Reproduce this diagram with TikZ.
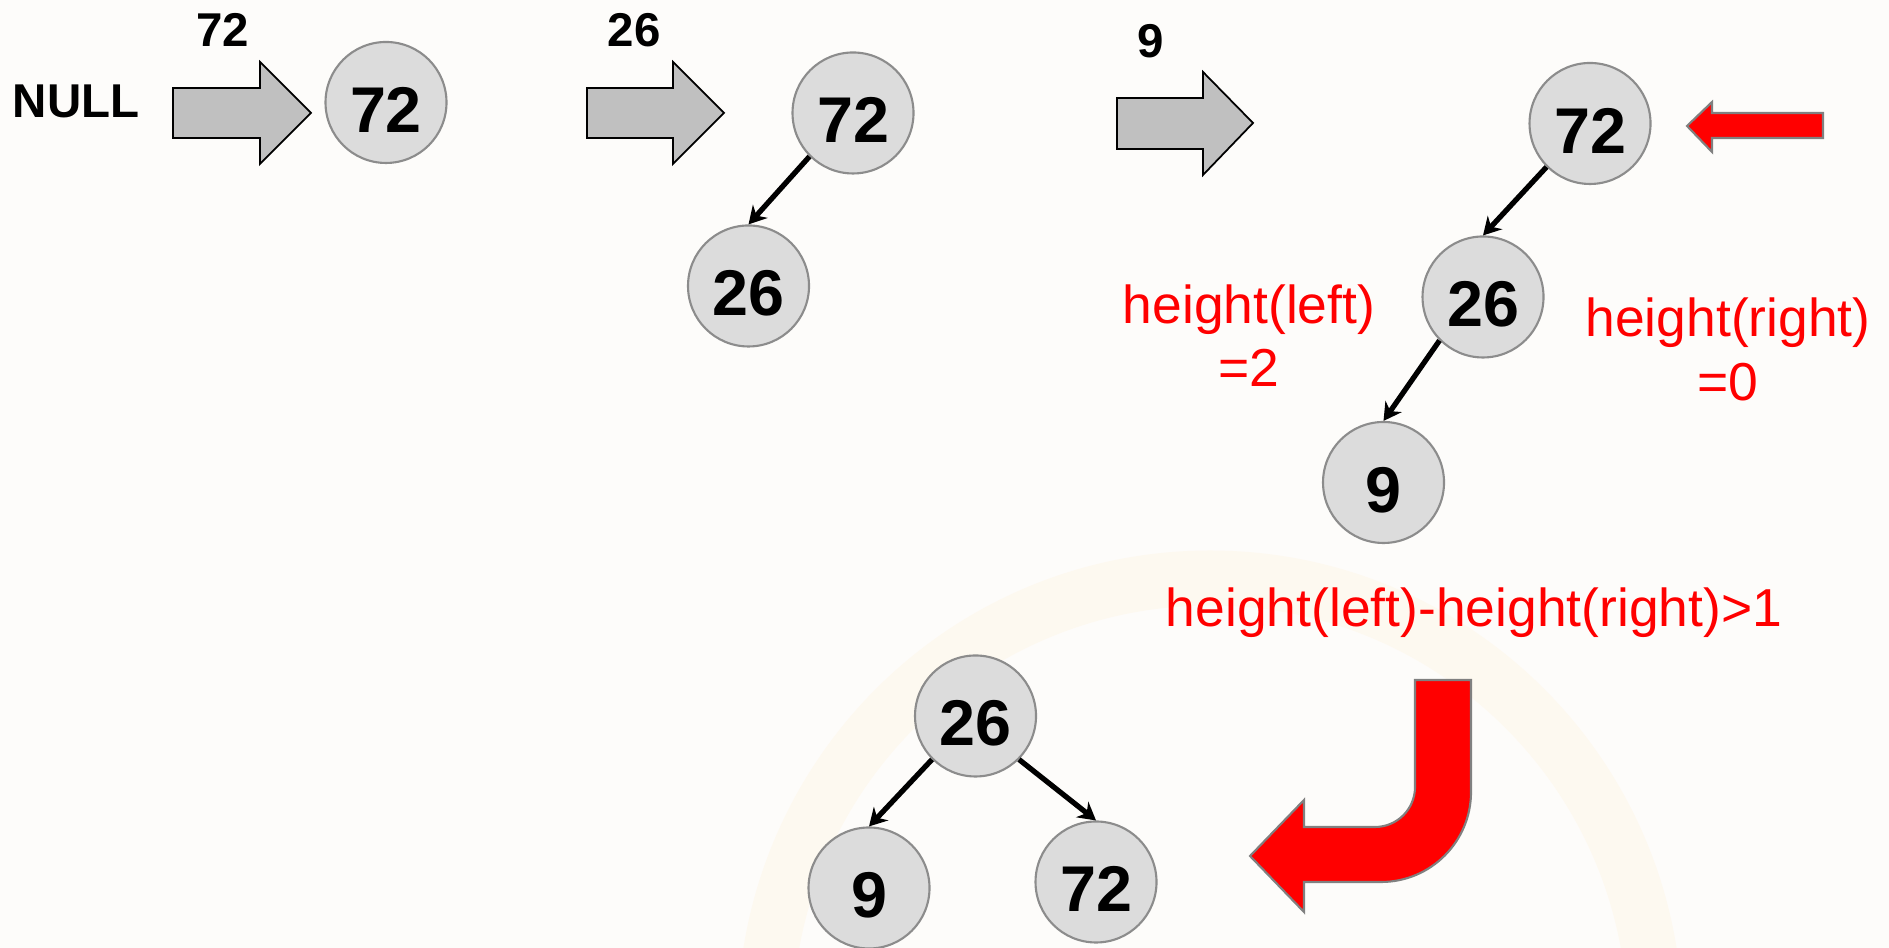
\documentclass[tikz,border=0pt]{standalone}
\usepackage{fontspec}
\setmainfont{Liberation Sans}
\usepackage{tikz}
\usetikzlibrary{arrows.meta}
\definecolor{bgpaper}{RGB}{253,252,250}
\definecolor{arcbeige}{RGB}{253,249,240}
\definecolor{nodegray}{RGB}{220,220,220}
\definecolor{rimgray}{RGB}{140,140,140}
\definecolor{arrowgray}{RGB}{192,192,192}

\begin{document}
\begin{tikzpicture}[thick,
  keynode/.style={circle,draw=rimgray,line width=0.6pt,fill=nodegray,minimum size=1.21cm,inner sep=0pt,text height=0.60cm,text depth=0pt,font=\fontsize{18.4}{20}\selectfont\bfseries},
  inlabel/.style={font=\fontsize{13.5}{16}\selectfont\bfseries},
  redlabel/.style={text=red,align=center,font=\fontsize{15.2}{18}\selectfont},
  fatarrow/.style={draw=black,line width=0.5pt,fill=arrowgray},
  redarrow/.style={draw=gray,line width=0.6pt,fill=red},
  treeedge/.style={line width=1.5pt,-{Stealth[length=5pt,width=5.6pt]}}]
\useasboundingbox (0,0) rectangle (18.89,9.48);
\fill [bgpaper] (0,0) rectangle (18.89,9.48);
\begin{scope}
\clip (0,0) rectangle (18.89,9.48);
\draw [arcbeige,line width=0.55cm] (16.55,-0.75) arc (0:180:4.45);
\end{scope}
% insertion arrows
\draw [fatarrow] (1.73,8.60)--(2.60,8.60)--(2.60,8.86)--(3.11,8.35)--(2.60,7.84)--(2.60,8.10)--(1.73,8.10)--cycle;
\draw [fatarrow] (5.87,8.60)--(6.73,8.60)--(6.73,8.86)--(7.24,8.35)--(6.73,7.84)--(6.73,8.10)--(5.87,8.10)--cycle;
\draw [fatarrow] (11.17,8.50)--(12.03,8.50)--(12.03,8.76)--(12.53,8.25)--(12.03,7.73)--(12.03,7.99)--(11.17,7.99)--cycle;
\node [inlabel] (null) at (0.76,8.465) {NULL};
\node [inlabel] (ins72) at (2.225,9.18) {72};
\node [inlabel] (ins26) at (6.34,9.18) {26};
\node [inlabel] (ins9) at (11.51,9.065) {9};
% step 1
\node [keynode] (a72) at (3.86,8.455) {72};
% step 2
\node [keynode] (b72) at (8.53,8.35) {72};
\node [keynode] (b26) at (7.485,6.62) {26};
\draw [treeedge] (b72.-135)--(b26.north);
% step 3
\node [keynode] (c72) at (15.90,8.245) {72};
\node [keynode] (c26) at (14.83,6.51) {26};
\node [keynode] (c9) at (13.835,4.655) {9};
\draw [treeedge] (c72.-135)--(c26.north);
\draw [treeedge] (c26.-135)--(c9.north);
\draw [redarrow] (18.23,8.35)--(17.12,8.35)--(17.12,8.46)--(16.87,8.22)--(17.12,7.96)--(17.12,8.10)--(18.23,8.10)--cycle;
\node [redlabel] (hleft) at (12.49,6.12) {height(left)\\=2};
\node [redlabel] (hright) at (17.28,5.985) {height(right)\\=0};
\node [redlabel] (hdiff) at (14.74,3.35) {height(left)-height(right)>1};
% rotation
\draw [redarrow] (14.15,2.68)--(14.15,1.61) arc (0:-90:0.40)--(13.04,1.21)--(13.04,1.48)--(12.50,0.92)--(13.04,0.36)--(13.04,0.66)--(13.81,0.66) arc (-90:0:0.90)--(14.71,2.68)--cycle;
\node [keynode] (d26) at (9.755,2.32) {26};
\node [keynode] (d9) at (8.69,0.60) {9};
\node [keynode] (d72) at (10.96,0.66) {72};
\draw [treeedge] (d26.-135)--(d9.north);
\draw [treeedge] (d26.-45)--(d72.north);
\end{tikzpicture}
\end{document}
